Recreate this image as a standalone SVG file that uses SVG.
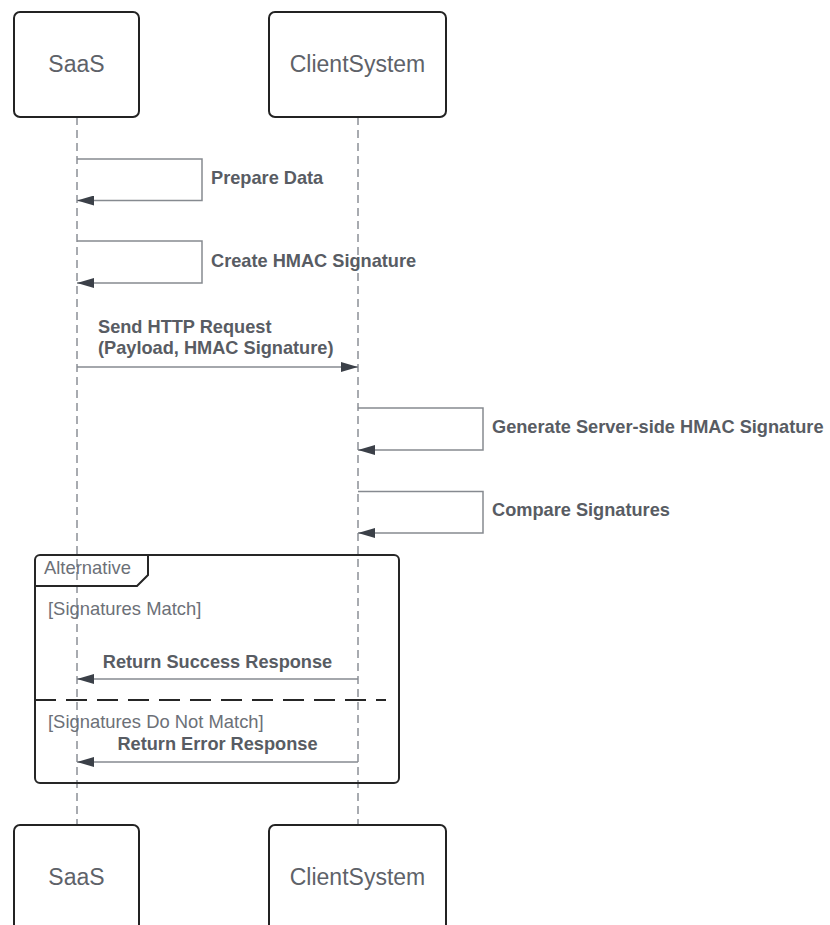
<svg xmlns="http://www.w3.org/2000/svg" width="830" height="925" viewBox="0 0 830 925">
  <style>
    .actor { fill: #ffffff; stroke: #232323; stroke-width: 2; }
    .actor-label { font-family: "Liberation Sans", Arial, sans-serif; font-size: 23px; fill: #5e6269; text-anchor: middle; }
    .lifeline { fill: none; stroke: #8c9096; stroke-width: 1.5; stroke-dasharray: 8 5; }
    .msg { fill: none; stroke: #868a90; stroke-width: 1.5; }
    .msg-label { font-family: "Liberation Sans", Arial, sans-serif; font-size: 18.2px; font-weight: bold; fill: #585c63; }
    .frame { fill: none; stroke: #262626; stroke-width: 2; }
    .frame-sep { fill: none; stroke: #262626; stroke-width: 2; stroke-dasharray: 21 10; }
    .guard { font-family: "Liberation Sans", Arial, sans-serif; font-size: 18.4px; fill: #6c7077; }
  </style>
  <defs>
    <marker id="arrow" viewBox="0 0 17 10" refX="17" refY="5" markerWidth="17" markerHeight="10" markerUnits="userSpaceOnUse" orient="auto">
      <path d="M0,0 L17,5 L0,10 Z" fill="#3b4048"/>
    </marker>
  </defs>

  <rect width="830" height="925" fill="#ffffff"/>

  <!-- lifelines -->
  <g id="lifelines">
    <line class="lifeline" x1="77" y1="117" x2="77" y2="825"/>
    <line class="lifeline" x1="358" y1="117" x2="358" y2="825"/>
  </g>

  <!-- participants, top -->
  <g id="saas-top">
    <rect class="actor" x="14" y="12" width="125" height="105" rx="6"/>
    <text class="actor-label" x="76.5" y="72">SaaS</text>
  </g>
  <g id="client-top">
    <rect class="actor" x="269" y="12" width="177" height="105" rx="6"/>
    <text class="actor-label" x="357.5" y="72">ClientSystem</text>
  </g>

  <!-- alt fragment -->
  <g id="alt-frame">
    <rect class="frame" x="35" y="555" width="364" height="228" rx="5"/>
    <path class="frame" d="M35,586 L137,586 L148,575 L148,555"/>
    <text class="guard" x="44" y="574">Alternative</text>
    <text class="guard" x="48" y="615">[Signatures Match]</text>
    <line class="frame-sep" x1="35" y1="700" x2="386" y2="700"/>
    <text class="guard" x="48" y="728">[Signatures Do Not Match]</text>
  </g>

  <!-- messages -->
  <g id="connectors">
    <path class="msg" d="M77,159 H202 V200.5 H77" marker-end="url(#arrow)"/>
    <path class="msg" d="M77,241 H202 V283 H77" marker-end="url(#arrow)"/>
    <line class="msg" x1="77" y1="367" x2="358" y2="367" marker-end="url(#arrow)"/>
    <path class="msg" d="M358,408 H483 V450 H358" marker-end="url(#arrow)"/>
    <path class="msg" d="M358,491.5 H483 V533 H358" marker-end="url(#arrow)"/>
    <line class="msg" x1="358" y1="679" x2="77" y2="679" marker-end="url(#arrow)"/>
    <line class="msg" x1="358" y1="762" x2="77" y2="762" marker-end="url(#arrow)"/>
  </g>

  <g id="message-labels">
    <text class="msg-label" x="211" y="184">Prepare Data</text>
    <text class="msg-label" x="211" y="267">Create HMAC Signature</text>
    <text class="msg-label" x="98" y="333">Send HTTP Request</text>
    <text class="msg-label" x="98" y="354">(Payload, HMAC Signature)</text>
    <text class="msg-label" x="492" y="433">Generate Server-side HMAC Signature</text>
    <text class="msg-label" x="492" y="516">Compare Signatures</text>
    <text class="msg-label" x="217.5" y="668" text-anchor="middle">Return Success Response</text>
    <text class="msg-label" x="217.5" y="750" text-anchor="middle">Return Error Response</text>
  </g>

  <!-- participants, bottom -->
  <g id="saas-bottom">
    <rect class="actor" x="14" y="825" width="125" height="110" rx="6"/>
    <text class="actor-label" x="76.5" y="885">SaaS</text>
  </g>
  <g id="client-bottom">
    <rect class="actor" x="269" y="825" width="177" height="110" rx="6"/>
    <text class="actor-label" x="357.5" y="885">ClientSystem</text>
  </g>
</svg>
